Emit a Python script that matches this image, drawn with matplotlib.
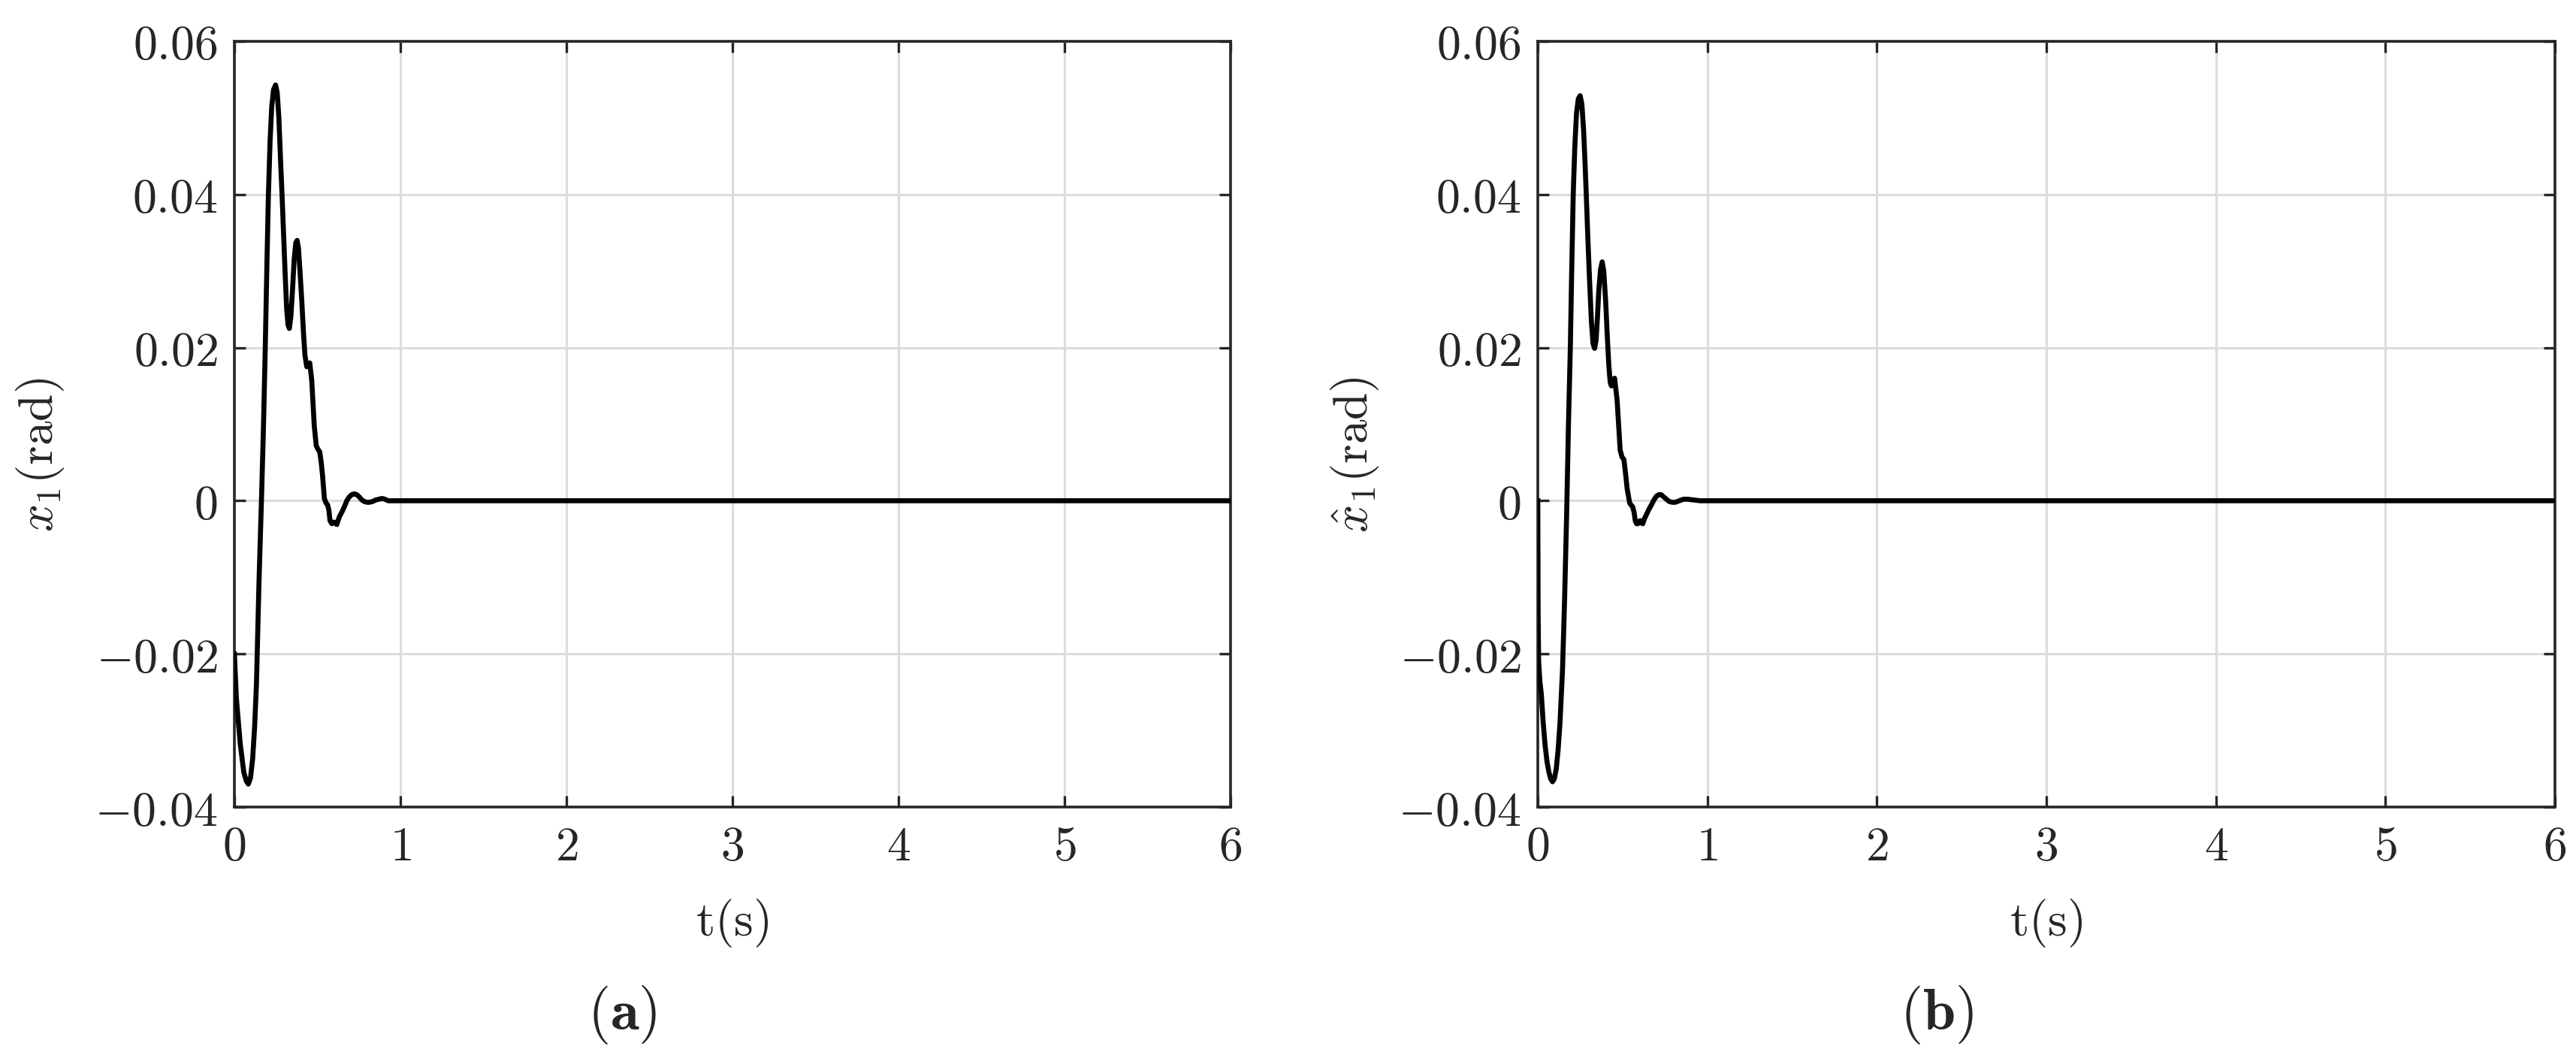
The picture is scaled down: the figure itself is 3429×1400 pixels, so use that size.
import matplotlib
matplotlib.use('Agg')
import matplotlib.pyplot as plt

# Réponse x1 (a) et estimation x1 chapeau (b)
t_a = [0.000, 0.012, 0.035, 0.057, 0.072, 0.084, 0.097, 0.110, 0.122, 0.133,
       0.148, 0.163, 0.175, 0.186, 0.196, 0.205, 0.215, 0.225, 0.236, 0.248,
       0.258, 0.268, 0.278, 0.287, 0.296, 0.305, 0.315, 0.323, 0.331, 0.340,
       0.350, 0.360, 0.370, 0.378, 0.386, 0.395, 0.406, 0.416, 0.425, 0.436,
       0.445, 0.454, 0.466, 0.481, 0.493, 0.504, 0.514, 0.523, 0.531, 0.542,
       0.552, 0.561, 0.569, 0.576, 0.587, 0.595, 0.602, 0.610, 0.617, 0.632,
       0.647, 0.662, 0.677, 0.692, 0.707, 0.722, 0.737, 0.752, 0.768, 0.783,
       0.798, 0.813, 0.832, 0.851, 0.870, 0.889, 0.907, 0.926, 1.000, 6.000]
x1_a = [-0.0200, -0.0258, -0.0317, -0.0355, -0.0366, -0.0370, -0.0362, -0.0337, -0.0295, -0.0239,
        -0.0108, 0.0000, 0.0095, 0.0200, 0.0310, 0.0400, 0.0470, 0.0515, 0.0537, 0.0543,
        0.0533, 0.0500, 0.0445, 0.0400, 0.0350, 0.0300, 0.0250, 0.0230, 0.0225, 0.0240,
        0.0275, 0.0315, 0.0337, 0.0340, 0.0330, 0.0300, 0.0261, 0.0220, 0.0190, 0.0175,
        0.0178, 0.0180, 0.0157, 0.0098, 0.0072, 0.0067, 0.0064, 0.0050, 0.0033, 0.0003,
        -0.0003, -0.0005, -0.0012, -0.0026, -0.0030, -0.0028, -0.0028, -0.0030, -0.0031, -0.0021,
        -0.0015, -0.0008, 0.0000, 0.0005, 0.0008, 0.0009, 0.0008, 0.0005, 0.0001, -0.0001,
        -0.0002, -0.0002, -0.0001, 0.0001, 0.0002, 0.0003, 0.0002, 0.0000, 0.0000, 0.0000]

t_b = [0.000, 0.002, 0.005, 0.012, 0.021, 0.032, 0.043, 0.054, 0.065, 0.076,
       0.087, 0.098, 0.109, 0.120, 0.131, 0.146, 0.158, 0.170, 0.181, 0.192,
       0.200, 0.209, 0.218, 0.228, 0.239, 0.250, 0.260, 0.270, 0.278, 0.286,
       0.295, 0.305, 0.316, 0.326, 0.335, 0.344, 0.352, 0.360, 0.370, 0.380,
       0.389, 0.400, 0.410, 0.419, 0.427, 0.434, 0.444, 0.453, 0.468, 0.486,
       0.497, 0.508, 0.518, 0.527, 0.542, 0.552, 0.560, 0.568, 0.575, 0.583,
       0.590, 0.597, 0.604, 0.612, 0.619, 0.630, 0.641, 0.656, 0.671, 0.685,
       0.700, 0.714, 0.727, 0.743, 0.759, 0.775, 0.793, 0.811, 0.835, 0.860,
       0.885, 0.920, 0.958, 1.000, 6.000]
x1hat_b = [0.0000, -0.0150, -0.0210, -0.0235, -0.0253, -0.0290, -0.0319, -0.0340, -0.0354, -0.0363,
           -0.0367, -0.0363, -0.0350, -0.0325, -0.0290, -0.0220, -0.0130, -0.0020, 0.0100, 0.0200,
           0.0300, 0.0400, 0.0460, 0.0505, 0.0525, 0.0529, 0.0518, 0.0485, 0.0445, 0.0400,
           0.0345, 0.0290, 0.0235, 0.0205, 0.0199, 0.0210, 0.0240, 0.0275, 0.0302, 0.0312,
           0.0300, 0.0262, 0.0215, 0.0177, 0.0155, 0.0150, 0.0158, 0.0160, 0.0131, 0.0066,
           0.0057, 0.0054, 0.0035, 0.0016, -0.0003, -0.0006, -0.0008, -0.0015, -0.0026, -0.0030,
           -0.0030, -0.0027, -0.0026, -0.0029, -0.0030, -0.0023, -0.0018, -0.0011, -0.0005, 0.0001,
           0.0006, 0.0008, 0.0008, 0.0005, 0.0002, -0.0001, -0.0002, -0.0002, 0.0000, 0.0002,
           0.0002, 0.0001, 0.0000, 0.0000, 0.0000]

xticks = [0, 1, 2, 3, 4, 5, 6]
xtick_labels = ['$0$', '$1$', '$2$', '$3$', '$4$', '$5$', '$6$']
yticks = [-0.04, -0.02, 0, 0.02, 0.04, 0.06]
ytick_labels = ['$-0.04$', '$-0.02$', '$0$', '$0.02$', '$0.04$', '$0.06$']

plt.rcParams['mathtext.fontset'] = 'cm'

fig = plt.figure(figsize=(34.3, 14), dpi=100)
W, H = 3430, 1400

gris_axe = '#262626'
gris_grille = '#dcdcdc'


def tracer(ax, t, y, ylabel, lab_x, lab_y):
    ax.plot(t, y, color='black', lw=4.8, zorder=3, solid_joinstyle='round')
    ax.set_xlim(0, 6)
    ax.set_ylim(-0.04, 0.06)
    ax.set_xticks(xticks)
    ax.set_xticklabels(xtick_labels)
    ax.set_yticks(yticks)
    ax.set_yticklabels(ytick_labels)
    ax.grid(True, color=gris_grille, lw=2.2, zorder=0)
    ax.set_axisbelow(True)
    for s in ax.spines.values():
        s.set_color(gris_axe)
        s.set_linewidth(2.6)
    ax.tick_params(direction='in', length=11, width=2.4, color=gris_axe,
                   top=True, right=True, labelsize=46, labelcolor=gris_axe, pad=16)
    ax.set_xlabel(r'$\mathrm{t(s)}$', fontsize=47, color=gris_axe, labelpad=26)
    ax.set_ylabel(ylabel, fontsize=47, color=gris_axe, va='center')
    ax.yaxis.set_label_coords(lab_x, lab_y)


ax1 = fig.add_axes([312 / W, 1 - 1074 / H, 1326 / W, 1019 / H])
tracer(ax1, t_a, x1_a, r'$x_1\mathrm{(rad)}$', -0.195, 0.46)

ax2 = fig.add_axes([2047 / W, 1 - 1074 / H, 1354 / W, 1019 / H])
tracer(ax2, t_b, x1hat_b, r'$\hat{x}_1\mathrm{(rad)}$', -0.18, 0.46)

# Légendes des sous-figures
fig.text(828 / W, 1 - 1350 / H, r'$\mathrm{(}\mathbf{a}\mathrm{)}$', fontsize=56,
         ha='center', va='center', color=gris_axe)
fig.text(2578 / W, 1 - 1350 / H, r'$\mathrm{(}\mathbf{b}\mathrm{)}$', fontsize=56,
         ha='center', va='center', color=gris_axe)

fig.savefig('out.png', dpi=100, facecolor='white')
